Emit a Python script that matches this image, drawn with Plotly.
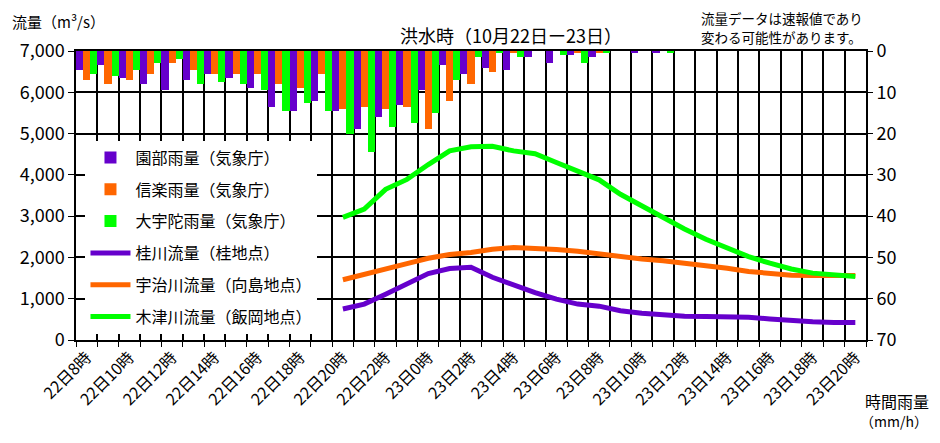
import plotly.graph_objects as go

# ---- data ----
times = [f"22日{h}時" for h in range(8, 24)] + [f"23日{h}時" for h in range(0, 21)]

rain_sonobe = [4.5, 3.5, 6.5, 8.0, 9.5, 7.0, 5.5, 6.5, 9.0, 13.5,
               14.5, 12.0, 14.5, 19.0, 16.0, 13.0, 9.5, 3.5, 5.5, 4.0,
               4.5, 1.5, 3.0, 1.0, 1.5, 0, 0.5, 0.5, 0, 0,
               0, 0, 0, 0, 0, 0, 0]
rain_shigaraki = [7.0, 8.0, 7.0, 5.5, 3.0, 4.5, 5.5, 5.5, 5.5, 8.0,
                  9.0, 5.5, 14.0, 13.5, 14.0, 13.5, 19.0, 12.0, 8.0, 5.0,
                  0.5, 0, 0, 0.5, 0.5, 0, 0, 0, 0, 0,
                  0, 0, 0, 0, 0, 0, 0]
rain_ouda = [5.5, 6.0, 4.5, 3.0, 2.0, 8.0, 7.5, 8.0, 9.5, 14.5,
             12.5, 14.5, 20.0, 24.5, 18.5, 17.5, 15.0, 7.0, 1.5, 0.5,
             1.5, 0, 1.0, 3.0, 0.5, 0, 0, 0.5, 0, 0,
             0, 0, 0, 0, 0, 0, 0]

flow_times = times[12:]
flow_katsura = [750, 870, 1110, 1370, 1610, 1730, 1760, 1520, 1320, 1150,
                990, 870, 820, 710, 650, 610, 575, 570, 575, 550,
                510, 470, 440, 425, 425]
flow_uji = [1460, 1580, 1700, 1850, 1980, 2070, 2120, 2200, 2240, 2230,
            2190, 2150, 2080, 2040, 1960, 1920, 1870, 1800, 1740, 1660,
            1600, 1570, 1560, 1560, 1560]
flow_kizu = [2970, 3170, 3650, 3890, 4250, 4580, 4680, 4690, 4580, 4510,
             4300, 4090, 3880, 3530, 3250, 2950, 2690, 2440, 2230, 2020,
             1860, 1720, 1620, 1580, 1540]

label_times = times[::2]

# ---- styles ----
PURPLE = "#6600CC"
ORANGE = "#FF6600"
GREEN = "#00FF00"
FONT = "Noto Sans CJK JP"

xi = list(range(len(times)))
fx = [times.index(t) for t in flow_times]
lx = [times.index(t) for t in label_times]

fig = go.Figure()

for name, vals, col in [("園部雨量（気象庁）", rain_sonobe, PURPLE),
                        ("信楽雨量（気象庁）", rain_shigaraki, ORANGE),
                        ("大宇陀雨量（気象庁）", rain_ouda, GREEN)]:
    fig.add_trace(go.Bar(x=xi, y=vals, name=name, marker_color=col,
                         marker_line_width=0, yaxis="y2", legendgroup=name))

for name, vals, col in [("桂川流量（桂地点）", flow_katsura, PURPLE),
                        ("宇治川流量（向島地点）", flow_uji, ORANGE),
                        ("木津川流量（飯岡地点）", flow_kizu, GREEN)]:
    fig.add_trace(go.Scatter(x=fx, y=vals, name=name, mode="lines",
                             line=dict(color=col, width=5), yaxis="y",
                             legendgroup=name))

fig.update_layout(
    width=924, height=427,
    margin=dict(l=66, r=66, t=43, b=95),
    paper_bgcolor="white", plot_bgcolor="white",
    font=dict(family=FONT, size=17, color="black"),
    barmode="group", bargap=0, bargroupgap=0,
    showlegend=True,
    legend=dict(x=0.012, y=0.69, xanchor="left", yanchor="top",
                bgcolor="white", borderwidth=0, tracegroupgap=8,
                itemwidth=40, font=dict(size=16, family=FONT)),
    xaxis=dict(range=[-0.5, len(times) - 0.5], tickmode="array",
               tickvals=lx, ticktext=label_times, tickangle=-45,
               ticks="", showgrid=False, zeroline=False,
               showline=True, linecolor="black", linewidth=1.5, mirror=True,
               tickfont=dict(size=16),
               minor=dict(tickmode="linear", tick0=-0.5, dtick=1,
                          ticks="outside", ticklen=5, tickcolor="black",
                          showgrid=True, gridcolor="black", gridwidth=1.5)),
    yaxis=dict(range=[0, 7000], dtick=1000, tickformat=",",
               showgrid=True, gridcolor="black", gridwidth=1.5,
               zeroline=False, ticks="outside", ticklen=6, tickcolor="black",
               showline=True, linecolor="black", linewidth=1.5, mirror=True,
               tickfont=dict(size=18)),
    yaxis2=dict(range=[70, 0], dtick=10, overlaying="y", side="right",
                showgrid=False, zeroline=False, ticks="outside", ticklen=6,
                tickcolor="black", tickfont=dict(size=18)),
    annotations=[
        dict(text="洪水時（10月22日ー23日）", xref="paper", yref="paper",
             x=0.55, y=1.055, xanchor="center", yanchor="middle",
             showarrow=False, font=dict(size=18)),
        dict(text="流量（m³/s）", xref="paper", yref="paper",
             x=-0.083, y=1.102, xanchor="left", yanchor="middle",
             showarrow=False, font=dict(size=15)),
        dict(text="流量データは速報値であり",
             xref="paper", yref="paper", x=0.788, y=1.115,
             xanchor="left", yanchor="middle", align="left",
             showarrow=False, font=dict(size=13.5)),
        dict(text="変わる可能性があります。",
             xref="paper", yref="paper", x=0.788, y=1.05,
             xanchor="left", yanchor="middle", align="left",
             showarrow=False, font=dict(size=13.5)),
        dict(text="時間雨量", xref="paper", yref="paper",
             x=0.996, y=-0.212, xanchor="left", yanchor="middle",
             showarrow=False, font=dict(size=16)),
        dict(text="（mm/h）", xref="paper", yref="paper",
             x=0.99, y=-0.28, xanchor="left", yanchor="middle",
             showarrow=False, font=dict(size=14)),
    ],
)

fig.write_html("out.html")
